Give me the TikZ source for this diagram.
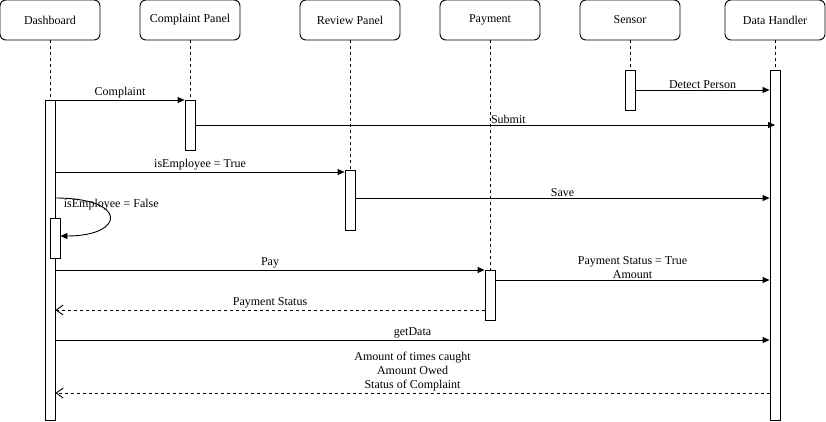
\documentclass[tikz,border=0pt]{standalone}
\usepackage{fontspec}
\setmainfont{Liberation Serif}
\usetikzlibrary{positioning,arrows.meta}

\begin{document}
\begin{tikzpicture}[x=1pt, y=-1pt, line width=0.9pt, font=\fontsize{12}{14}\selectfont,
    actor/.style={draw, rounded corners=6pt, minimum width=100pt, minimum height=40pt, inner sep=0pt},
    bar/.style={draw, fill=white, minimum width=10pt, inner sep=0pt, anchor=north},
    life/.style={dash pattern=on 3pt off 3pt},
    msg/.style={-{Triangle[length=7pt,width=6pt]}},
    reply/.style={dash pattern=on 3pt off 3pt, -{Straight Barb[length=7pt,width=10pt]}},
    lbl/.style={above, inner sep=1.2pt, align=center}]
    \useasboundingbox (0,0) rectangle (826,421);

    % participants
    \node[actor] (dash) at (50,20) {Dashboard};
    \node[actor] (comp) at (190,20) {Complaint Panel};
    \node[actor] (rev) at (350,20) {Review Panel};
    \node[actor] (pay) at (490,20) {Payment};
    \node[actor] (sens) at (630,20) {Sensor};
    \node[actor] (data) at (775,20) {Data Handler};

    % activation bars
    \node[bar, minimum height=320pt] (dashBar) at (50,100) {};
    \node[bar, minimum height=50pt] (compBar) at (190,100) {};
    \node[bar, minimum height=60pt] (revBar) at (350,170) {};
    \node[bar, minimum height=50pt] (payBar) at (490,270) {};
    \node[bar, minimum height=40pt] (sensBar) at (630,70) {};
    \node[bar, minimum height=350pt] (dataBar) at (775,70) {};
    \node[bar, minimum height=40pt] (selfBar) at (55,218) {};

    % lifelines
    \draw[life] (dash.south) -- (dashBar.north);
    \draw[life] (comp.south) -- (compBar.north);
    \draw[life] (rev.south) -- (revBar.north);
    \draw[life] (pay.south) -- (payBar.north);
    \draw[life] (sens.south) -- (sensBar.north);
    \draw[life] (data.south) -- (dataBar.north);

    % messages
    \draw[msg] (sensBar.east |- 0,90) -- (dataBar.west |- 0,90) node[lbl, midway] {Detect Person};
    \draw[msg] (dashBar.north east) -- (compBar.north west) node[lbl, midway] {Complaint};
    \draw[msg] (compBar.east |- 0,125) -- (dataBar.center |- 0,125) node[lbl, pos=0.54] {Submit};
    \draw[msg] (dashBar.east |- 0,172) -- (revBar.west |- 0,172) node[lbl, midway] {isEmployee = True};
    \draw[msg] (revBar.east |- 0,198) -- (dataBar.west |- 0,198) node[lbl, midway] {Save};
    \draw[msg] (dashBar.east |- 0,198) .. controls +(73,0) and +(65,0) .. (selfBar.east |- 0,236)
        node[pos=0, anchor=north west, xshift=7pt, inner sep=1pt] {isEmployee = False};
    \draw[msg] (dashBar.east |- payBar.north) -- (payBar.north west) node[lbl, midway] {Pay};
    \draw[msg] (payBar.east |- 0,280) -- (dataBar.west |- 0,280) node[lbl, midway] {Payment Status = True\\Amount};
    \draw[reply] (payBar.west |- 0,310) -- (dashBar.east |- 0,310) node[lbl, midway] {Payment Status};
    \draw[msg] (dashBar.east |- 0,340) -- (dataBar.west |- 0,340) node[lbl, midway] {getData};
    \draw[reply] (dataBar.west |- 0,393) -- (dashBar.east |- 0,393)
        node[lbl, midway] {Amount of times caught\\Amount Owed\\Status of Complaint};
\end{tikzpicture}
\end{document}
